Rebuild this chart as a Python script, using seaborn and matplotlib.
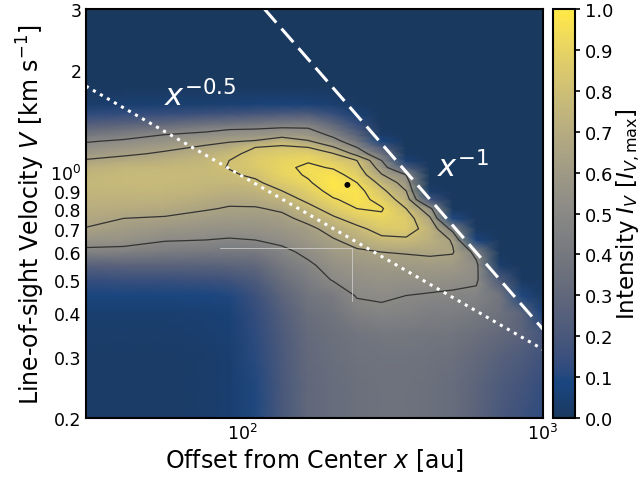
import numpy as np
import matplotlib
matplotlib.use('Agg')
import matplotlib.pyplot as plt
import seaborn as sns
from matplotlib.colors import ListedColormap
from matplotlib.ticker import NullFormatter
from matplotlib.transforms import ScaledTranslation

# grid of the PV diagram (offset columns, velocity rows)
offset_au = [30, 40, 55, 75, 90, 110, 135, 165, 200, 240, 290, 350, 420, 500, 600, 720, 850, 1000]
velocity_kms = [0.20, 0.25, 0.30, 0.35, 0.40, 0.45, 0.50, 0.55, 0.60, 0.65,
                0.70, 0.75, 0.80, 0.85, 0.90, 0.95, 1.00, 1.05, 1.10, 1.15,
                1.20, 1.25, 1.30, 1.35, 1.40, 1.50, 1.60, 1.80, 2.00, 3.00]

# normalised intensity, one list per offset column (bottom -> top); missing tail = 0
intensity_by_offset = [
    [.02, .02, .02, .03, .04, .08, .14, .26, .46, .57, .645, .68, .71, .73, .75, .76, .75, .72, .66, .60, .54, .49, .40, .32, .24, .12, .03],
    [.02, .02, .02, .03, .04, .08, .15, .27, .45, .56, .61, .65, .70, .73, .75, .77, .77, .75, .69, .63, .58, .52, .45, .36, .27, .13, .04],
    [.02, .02, .02, .03, .04, .08, .15, .27, .42, .51, .58, .64, .69, .73, .76, .77, .77, .76, .72, .67, .62, .56, .51, .42, .31, .14, .04],
    [.03, .03, .03, .04, .05, .09, .16, .27, .41, .50, .56, .61, .66, .70, .74, .76, .77, .77, .76, .72, .67, .61, .54, .47, .36, .16, .04],
    [.04, .04, .04, .05, .06, .10, .17, .28, .40, .49, .55, .60, .64, .68, .72, .76, .785, .805, .80, .77, .70, .64, .56, .50, .38, .17, .05],
    [.10, .10, .11, .12, .13, .16, .22, .30, .41, .50, .56, .60, .64, .69, .74, .78, .82, .85, .86, .84, .80, .66, .58, .51, .41, .19, .06],
    [.20, .20, .21, .22, .24, .28, .34, .41, .47, .53, .58, .62, .67, .74, .80, .86, .90, .91, .90, .87, .82, .75, .60, .53, .44, .21, .06],
    [.30, .30, .31, .32, .34, .38, .43, .48, .53, .59, .62, .69, .76, .83, .88, .92, .94, .95, .92, .88, .80, .66, .59, .52, .44, .22, .06],
    [.33, .33, .34, .35, .38, .42, .51, .55, .60, .64, .70, .78, .86, .92, .97, .99, .97, .92, .86, .81, .66, .56, .47, .38, .30, .14, .04],
    [.35, .35, .36, .38, .45, .51, .54, .58, .63, .70, .77, .86, .93, .97, .97, .93, .88, .84, .80, .60, .50, .38, .28, .20, .14, .05, .01],
    [.36, .36, .37, .40, .47, .52, .56, .60, .65, .77, .85, .91, .94, .89, .83, .76, .66, .58, .50, .36, .22, .08, .03, .01],
    [.36, .36, .37, .40, .46, .50, .55, .60, .66, .78, .86, .86, .80, .72, .65, .58, .50, .22, .05, .01],
    [.35, .35, .36, .39, .44, .49, .55, .61, .67, .72, .74, .67, .54, .17, .03],
    [.33, .33, .35, .38, .43, .48, .54, .60, .66, .64, .45, .10, .01],
    [.27, .28, .31, .35, .41, .47, .52, .53, .45, .07, .01],
    [.20, .22, .26, .31, .36, .38, .22, .03],
    [.16, .18, .22, .27, .28, .10, .01],
    [.12, .14, .17, .19, .07, .01],
]

contour_levels = [0.5, 0.65, 0.8, 0.93]

# guide lines (end points)
kepler_x = [30, 1000]      # x^-0.5
kepler_v = [1.8, 0.315]
infall_x = [118, 1000]     # x^-1
infall_v = [3.0, 0.36]
marker_x = [84, 231, 231]
marker_v = [0.617, 0.617, 0.435]
peak_x = [223]
peak_v = [0.936]

cbar_ticks = [0.0, 0.1, 0.2, 0.3, 0.4, 0.5, 0.6, 0.7, 0.8, 0.9, 1.0]
ytick_minor = [0.2, 0.3, 0.4, 0.5, 0.6, 0.7, 0.8, 0.9, 2, 3]

n_v = len(velocity_kms)
Z = np.array([col + [0.0] * (n_v - len(col)) for col in intensity_by_offset]).T
X, Y = np.meshgrid(offset_au, velocity_kms)

sns.set_theme(style='ticks', rc={'axes.edgecolor': 'black', 'text.color': 'black',
                                 'axes.labelcolor': 'black', 'xtick.color': 'black',
                                 'ytick.color': 'black'})
plt.rcParams['font.family'] = ['DejaVu Sans']
plt.rcParams['mathtext.fontset'] = 'dejavusans'

fig = plt.figure(figsize=(6.44, 4.81), dpi=100)
ax = fig.add_axes([0.1335, 0.1289, 0.7096, 0.8503])
cax = fig.add_axes([0.8587, 0.1289, 0.0342, 0.8503])

# cividis seen through 90 % opacity on white
base = sns.color_palette('cividis', as_cmap=True)
rgba = base(np.linspace(0, 1, 256))
rgba[:, :3] = 0.9 * rgba[:, :3] + 0.1
cmap = ListedColormap(rgba)

mesh = ax.pcolormesh(X, Y, Z, cmap=cmap, vmin=0, vmax=1, shading='gouraud')
ax.contour(X, Y, Z, levels=contour_levels, colors='0.2', linewidths=0.9)

ax.plot(marker_x, marker_v, color='0.85', lw=0.7, alpha=0.7)
ax.plot(kepler_x, kepler_v, color='white', lw=2.2, linestyle=':')
ax.plot(infall_x, infall_v, color='white', lw=2.2, linestyle=(0, (5.9, 2.6)))
sns.scatterplot(x=peak_x, y=peak_v, ax=ax, color='black', s=18, edgecolor='none', zorder=5)

ax.text(54.5, 1.58, r'$x^{-0.5}$', color='white', fontsize=22, ha='left', va='baseline')
ax.text(442, 0.99, r'$x^{-1}$', color='white', fontsize=22, ha='left', va='baseline')

ax.set_xscale('log')
ax.set_yscale('log')
ax.set_xlim(30, 1000)
ax.set_ylim(0.2, 3)
ax.set_yticks([1.0], labels=[r'$10^{0}$'])
ax.set_yticks(ytick_minor, labels=[f'{t:g}' for t in ytick_minor], minor=True)
ax.xaxis.set_minor_formatter(NullFormatter())

ax.tick_params(which='both', direction='in', top=True, right=True, labelsize=12.5,
               width=1.2, colors='black')
ax.tick_params(which='major', length=7)
ax.tick_params(which='minor', length=4)
for sp in ax.spines.values():
    sp.set_linewidth(1.5)

# lift the 10^0 label a little so it clears 0.9
nudge = ScaledTranslation(0, 2.5 / 72, fig.dpi_scale_trans)
for lab in ax.get_yticklabels():
    lab.set_transform(lab.get_transform() + nudge)

ax.set_xlabel(r'Offset from Center $x$ [au]', fontsize=17, labelpad=2)
ax.set_ylabel(r'Line-of-sight Velocity $V$ [km s$^{-1}$]', fontsize=17, labelpad=2)

cb = fig.colorbar(mesh, cax=cax, ticks=cbar_ticks)
cb.ax.set_yticklabels([f'{t:.1f}' for t in cbar_ticks])
cb.ax.tick_params(labelsize=13, direction='inout', length=7, width=1.2)
cb.outline.set_linewidth(1.5)
cb.set_label(r'Intensity $I_V$ [$I_{V,\mathrm{max}}$]', fontsize=16.5, labelpad=1)

fig.savefig('out.png', dpi=100)
